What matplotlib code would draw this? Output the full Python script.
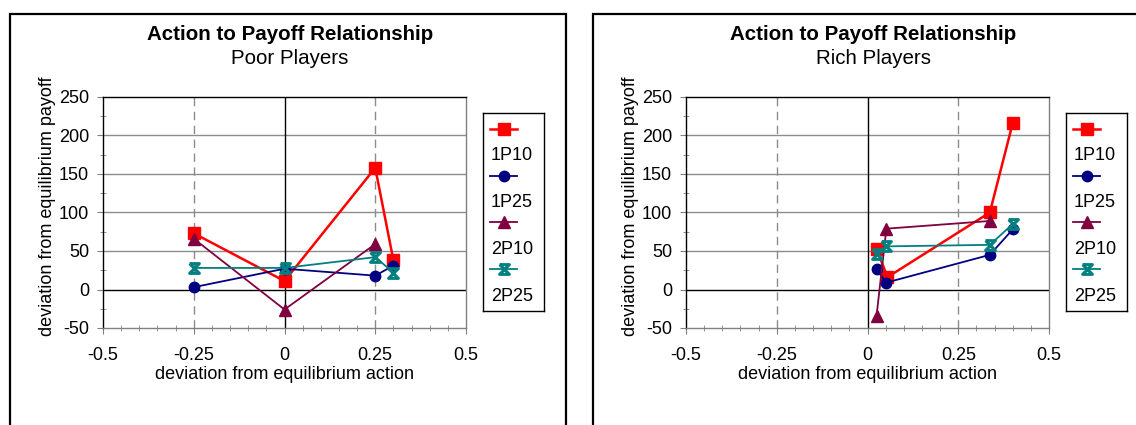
import matplotlib.pyplot as plt
from matplotlib.path import Path
from matplotlib.patches import Rectangle
from matplotlib.ticker import MultipleLocator

plt.rcParams['font.family'] = ['Liberation Sans', 'DejaVu Sans']
plt.rcParams['axes.unicode_minus'] = False

W, H = 1136, 425

# series labels and colours
series_names = ['1P10', '1P25', '2P10', '2P25']
series_colors = ['#ff0000', '#000080', '#800040', '#008080']

# poor players
poor_x_1p10 = [-0.25, 0.0, 0.25, 0.30]
poor_y_1p10 = [73, 11, 158, 38]
poor_x_1p25 = [-0.25, 0.0, 0.25, 0.30]
poor_y_1p25 = [3, 27, 18, 31]
poor_x_2p10 = [-0.25, 0.0, 0.25]
poor_y_2p10 = [66, -26, 59]
poor_x_2p25 = [-0.25, 0.0, 0.25, 0.30]
poor_y_2p25 = [28, 28, 42, 22]

# rich players
rich_x_1p10 = [0.025, 0.055, 0.337, 0.40]
rich_y_1p10 = [53, 16, 100, 216]
rich_x_1p25 = [0.025, 0.052, 0.337, 0.40]
rich_y_1p25 = [26, 9, 45, 78]
rich_x_2p10 = [0.025, 0.052, 0.337]
rich_y_2p10 = [-34, 79, 89]
rich_x_2p25 = [0.025, 0.052, 0.337, 0.40]
rich_y_2p25 = [46, 56, 58, 85]

x_ticks = [-0.5, -0.25, 0, 0.25, 0.5]
x_tick_labels = ['-0.5', '-0.25', '0', '0.25', '0.5']
y_ticks = [-50, 0, 50, 100, 150, 200, 250]

# hourglass marker like the Excel one
hourglass = Path([(-1, 1), (1, 1), (-1, -1), (1, -1), (-1, 1)],
                 [Path.MOVETO, Path.LINETO, Path.LINETO, Path.LINETO,
                  Path.LINETO])
markers = ['s', 'o', '^', hourglass]
msizes = [8, 7.5, 8, 7]
lwidths = [1.8, 1.3, 1.3, 1.3]


def style(i):
    d = dict(color=series_colors[i], marker=markers[i], markersize=msizes[i],
             lw=lwidths[i], markeredgecolor=series_colors[i])
    if i == 3:
        d['markerfacecolor'] = 'none'
        d['markeredgewidth'] = 2.2
    else:
        d['markerfacecolor'] = series_colors[i]
    return d


def panel(fig, left_px, frame_px, subtitle, xs, ys):
    ax = fig.add_axes([left_px / W, 1 - 328 / H, 363 / W, 231 / H])
    ax.set_xlim(-0.5, 0.5)
    ax.set_ylim(-50, 250)

    # grid and zero lines
    for yv in [50, 100, 150, 200]:
        ax.axhline(yv, color='#8c8c8c', lw=1.0, zorder=0)
    for xv in [-0.25, 0.25]:
        ax.axvline(xv, color='#8c8c8c', lw=1.0, ls=(0, (6, 4)), zorder=0)
    ax.axhline(0, color='black', lw=1.0, zorder=1)
    ax.axvline(0, color='black', lw=1.0, zorder=1)

    for i in range(4):
        ax.plot(xs[i], ys[i], zorder=3 + i, clip_on=False, **style(i))

    ax.set_xticks(x_ticks)
    ax.set_xticklabels(x_tick_labels)
    ax.set_yticks(y_ticks)
    ax.xaxis.set_minor_locator(MultipleLocator(0.05))
    ax.yaxis.set_minor_locator(MultipleLocator(25))
    ax.tick_params(which='major', direction='out', length=4, color='#808080',
                   labelsize=13)
    ax.tick_params(which='minor', direction='inout', length=4,
                   color='#808080')
    ax.tick_params(axis='x', which='major', pad=10)
    ax.tick_params(axis='y', which='major', pad=6)
    for s in ['left', 'top']:
        ax.spines[s].set_color('black')
    for s in ['bottom', 'right']:
        ax.spines[s].set_color('#808080')
    for s in ax.spines.values():
        s.set_linewidth(1.0)

    ax.set_xlabel('deviation from equilibrium action', fontsize=13,
                  labelpad=1)
    ax.set_ylabel('deviation from equilibrium payoff', fontsize=13)
    ax.yaxis.set_label_coords(-47 / 363, 0.525)

    cx = (left_px + 182 + 5) / W
    fig.text(cx, 1 - 34 / H, 'Action to Payoff Relationship', ha='center',
             va='center', fontsize=14.8, fontweight='bold')
    fig.text(cx, 1 - 59 / H, subtitle, ha='center', va='center',
             fontsize=14.8)

    # legend box, one row for the line sample and one for the name
    lx = left_px + 380
    lg = fig.add_axes([lx / W, 1 - 311 / H, 61 / W, 198 / H])
    lg.set_xlim(0, 61)
    lg.set_ylim(198, 0)
    lg.set_xticks([])
    lg.set_yticks([])
    for s in lg.spines.values():
        s.set_color('black')
        s.set_linewidth(1.0)
    for i, name in enumerate(series_names):
        yh = 16 + i * 46.7
        st = style(i)
        st_line = dict(st)
        st_line['marker'] = None
        lg.plot([7, 34], [yh, yh], **st_line)
        st_mark = dict(st)
        st_mark['lw'] = 0
        lg.plot([20.5], [yh], **st_mark)
        lg.text(8, yh + 27, name, fontsize=13, ha='left', va='center')

    fig.add_artist(Rectangle((frame_px[0] / W, -0.1),
                             (frame_px[1] - frame_px[0]) / W,
                             1 - 14 / H + 0.1, transform=fig.transFigure,
                             fill=False, lw=1.6, ec='black', clip_on=False))
    return ax


def main():
    fig = plt.figure(figsize=(W / 100, H / 100), dpi=100)
    panel(fig, 103, (10, 566), 'Poor Players',
          [poor_x_1p10, poor_x_1p25, poor_x_2p10, poor_x_2p25],
          [poor_y_1p10, poor_y_1p25, poor_y_2p10, poor_y_2p25])
    panel(fig, 686, (593, 1150), 'Rich Players',
          [rich_x_1p10, rich_x_1p25, rich_x_2p10, rich_x_2p25],
          [rich_y_1p10, rich_y_1p25, rich_y_2p10, rich_y_2p25])
    fig.savefig('out.png', dpi=100)


if __name__ == "__main__":
    main()
